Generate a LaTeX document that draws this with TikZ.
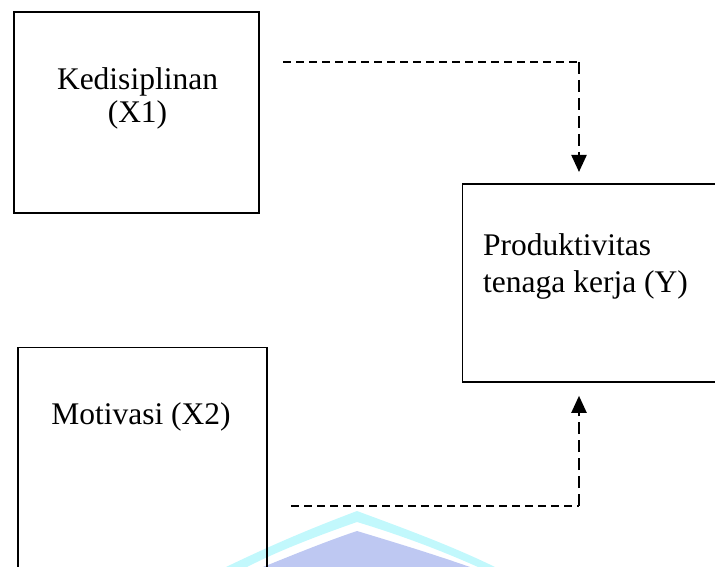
\documentclass[tikz,border=0pt]{standalone}
\usepackage{fontspec}
\setmainfont{Liberation Serif}
\usetikzlibrary{arrows.meta}
\definecolor{wmcyan}{HTML}{C2F8FC}
\definecolor{wmlav}{HTML}{BEC8F2}
\tikzset{
  boxnode/.style={draw, line width=1.8pt, rectangle, inner sep=0pt},
  lbl/.style={font=\fontsize{31.5}{36}\selectfont, inner sep=0pt, anchor=base},
  hdash/.style={line width=2pt, dash pattern=on 8pt off 5pt},
  vdash/.style={line width=2.2pt, dash pattern=on 12pt off 6pt},
  tip/.style={-{Triangle[length=17pt,width=15pt]}}
}
\begin{document}
\begin{tikzpicture}[x=1pt,y=-1pt]
\useasboundingbox (0,0) rectangle (715,567);
% watermark
\fill[wmcyan] (226,567) .. controls (280,541) and (320,525) .. (357,511)
  .. controls (400,527) and (450,545) .. (495,567) -- (478,567)
  .. controls (440,550) and (400,535) .. (357,522)
  .. controls (320,535) and (280,550) .. (247,567) -- cycle;
\fill[wmlav] (263,567) .. controls (300,552) and (330,540) .. (357,531)
  .. controls (390,541) and (430,553) .. (470,567) -- cycle;
% boxes
\node[boxnode, minimum width=245pt, minimum height=201pt] (K) at (136.5,112.5) {};
\node[boxnode, minimum width=300pt, minimum height=198pt, anchor=north west] (Y) at (461.5,183) {};
\node[boxnode, minimum width=249pt, minimum height=260pt, anchor=north west] (M) at (17,346.5) {};
% texts
\node[lbl] (k1) at (137.5,90) {Kedisiplinan};
\node[lbl] (k2) at (137.5,123) {(X1)};
\node[lbl, anchor=base west] (y1) at (483,255) {Produktivitas};
\node[lbl, anchor=base west] (y2) at (483,292) {tenaga kerja (Y)};
\node[lbl] (m1) at (141,424) {Motivasi (X2)};
% connectors
\coordinate (a1) at (283,62);
\coordinate (a2) at (579,62);
\draw[hdash] (a1) -- (a2);
\draw[vdash, tip, shorten >=11pt] (a2) -- (a2 |- Y.north);
\coordinate (b1) at (291,506);
\coordinate (b2) at (579,506);
\draw[hdash] (b1) -- (b2);
\draw[vdash, tip, shorten >=13pt] (b2) -- (b2 |- Y.south);
\end{tikzpicture}
\end{document}
